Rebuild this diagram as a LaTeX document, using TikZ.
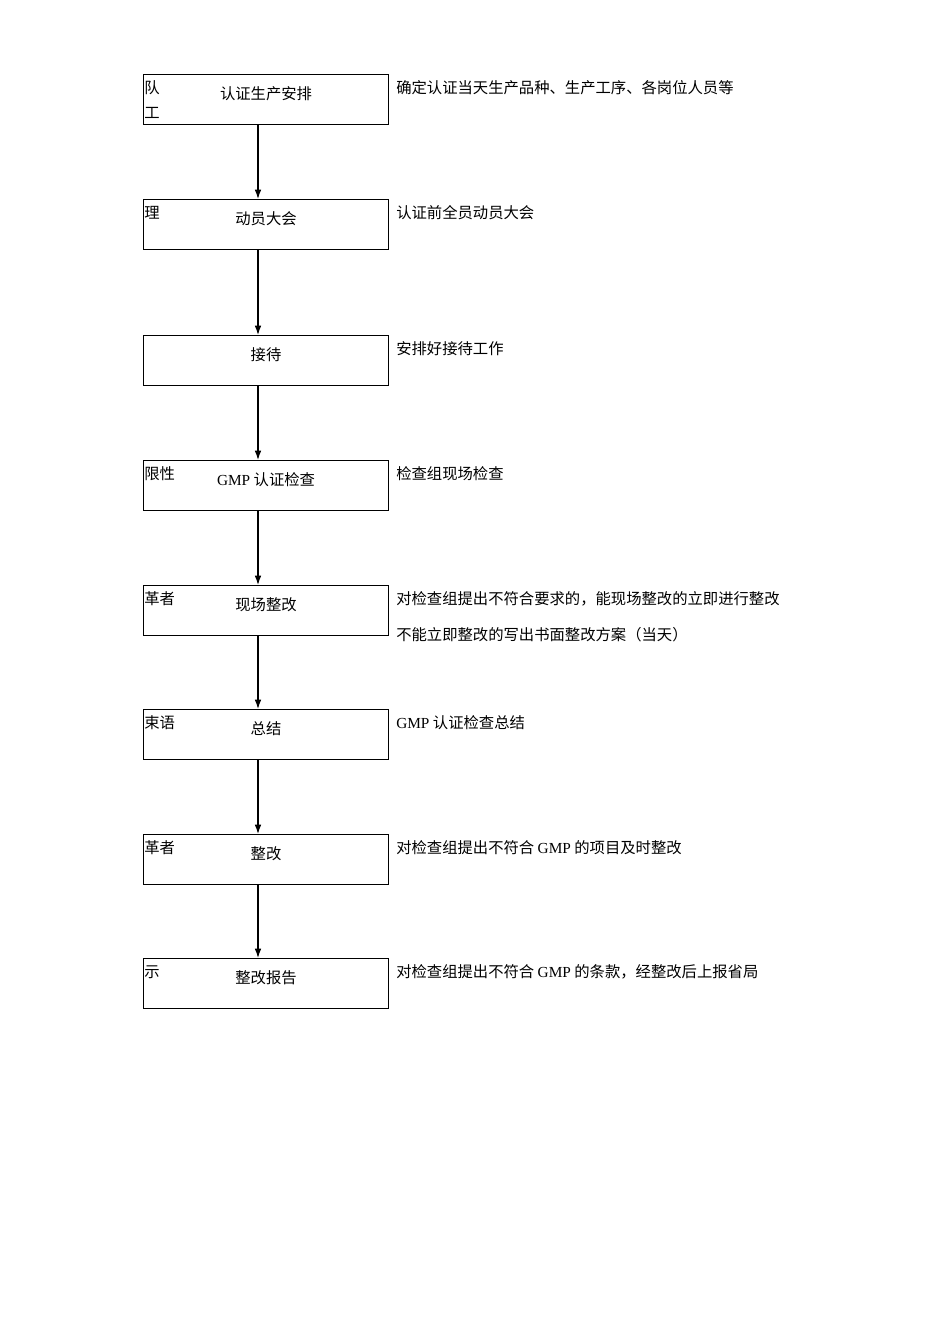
\documentclass[tikz,border=0pt]{standalone}
\usepackage{fontspec}
\setmainfont{Noto Sans CJK SC}
\newfontfamily\lat{Liberation Serif}
\newcommand{\gmp}{{\lat GMP}}
\usetikzlibrary{arrows.meta}
\begin{document}
\begin{tikzpicture}[x=0.75pt,y=-0.75pt,
  boxst/.style={draw,line width=0.8pt,minimum width=245*0.75pt,minimum height=50*0.75pt,inner sep=0},
  tt/.style={font=\fontsize{11.5pt}{13pt}\selectfont,inner sep=0},
  lt/.style={tt,anchor=west},
  arr/.style={-{Latex[length=7pt,width=5pt]},line width=0.9pt}]
\useasboundingbox (0,0) rectangle (950,1344);
\foreach \n/\y/\t/\l/\r in {
 1/74/认证生产安排/队/确定认证当天生产品种、生产工序、各岗位人员等,
 2/199/动员大会/理/认证前全员动员大会,
 3/335/接待//安排好接待工作,
 4/460/\gmp{} 认证检查/限性/检查组现场检查,
 5/585/现场整改/革者/对检查组提出不符合要求的，能现场整改的立即进行整改,
 6/709/总结/束语/\gmp{} 认证检查总结,
 7/834/整改/革者/对检查组提出不符合 \gmp{} 的项目及时整改,
 8/958/整改报告/示/对检查组提出不符合 \gmp{} 的条款，经整改后上报省局}{
 \node[boxst,anchor=north west] (b\n) at (143,\y) {};
 \node[tt] (t\n) at (266,\y+20) {\t};
 \node[lt] (l\n) at (144,\y+14) {\l};
 \node[lt] (r\n) at (396,\y+14) {\r};
}
\node[lt] (l1b) at (144,113) {工};
\node[lt] (r5b) at (396,635) {不能立即整改的写出书面整改方案（当天）};
\foreach \a/\b in {1/2,2/3,3/4,4/5,5/6,6/7,7/8}{
 \draw[arr] (b\a.south -| 258,0) -- (b\b.north -| 258,0);
}
\end{tikzpicture}
\end{document}
